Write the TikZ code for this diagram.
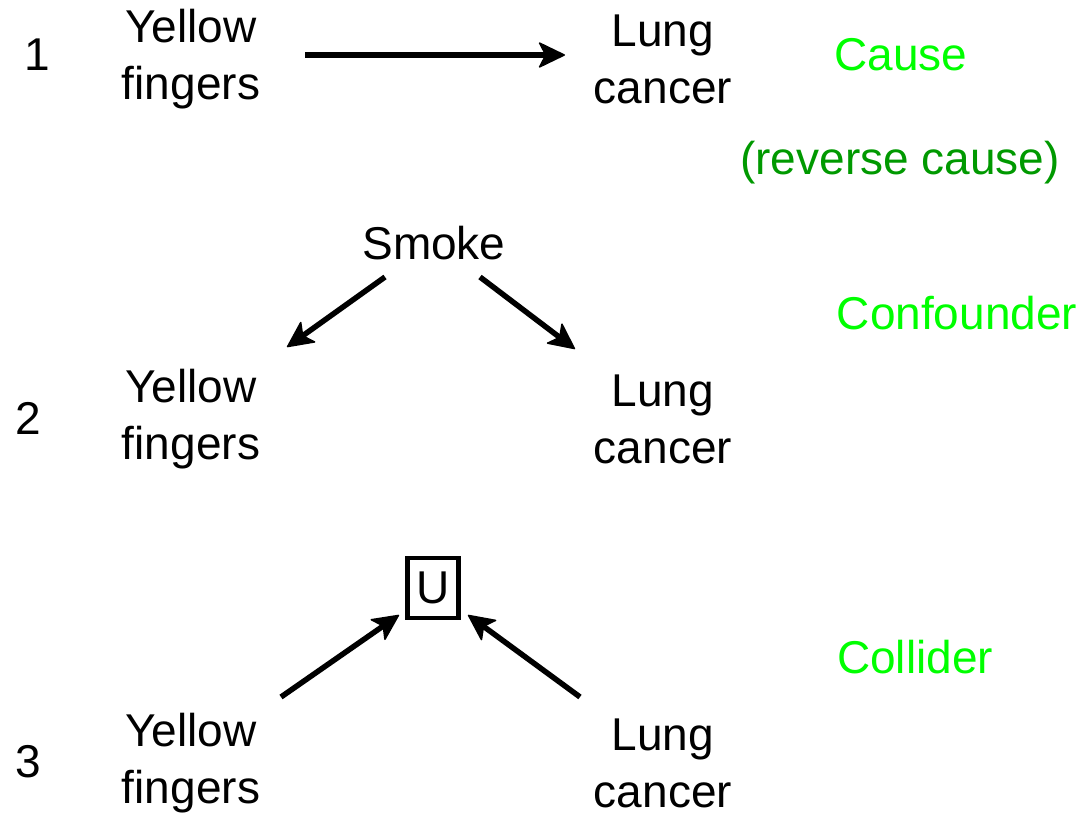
\documentclass[tikz,border=0pt]{standalone}
\usepackage{fontspec}
\setmainfont{Liberation Sans}
\usetikzlibrary{arrows.meta,calc}
\definecolor{brightgreen}{HTML}{00FF00}
\definecolor{darkgreen}{HTML}{009900}
\begin{document}
\begin{tikzpicture}[x=1pt,y=-1pt,
  every node/.style={inner sep=0pt,font=\fontsize{46}{57}\selectfont},
  lbl/.style={align=center},
  note/.style={text=brightgreen},
  arr/.style={line width=5.5pt,-{Stealth[length=28pt,width=27pt,inset=7pt,line width=1.5pt,round]}},
  ubox/.style={draw,line width=4.5pt,minimum width=51pt,minimum height=60pt}]
\useasboundingbox (0,0) rectangle (1086,816);

% row numbers
\node (n1) at (37,55) {1};
\node (n2) at (28,418) {2};
\node (n3) at (28,762) {3};

% 1: direct cause
\node[lbl] (yf1) at (191,59) {Yellow\\fingers};
\node[lbl] (lc1) at (663,59) {Lung\\cancer};
\draw[arr] ($(yf1)+(114,-4)$) -- ($(lc1)+(-98,-4)$);
\node[note] (cause) at (901,55) {Cause};
\node[text=darkgreen] (rev) at (900,163) {(reverse cause)};

% 2: confounder
\node (smoke) at (434,243) {Smoke};
\node[lbl] (yf2) at (191,419) {Yellow\\fingers};
\node[lbl] (lc2) at (663,419) {Lung\\cancer};
\draw[arr] ($(smoke)+(-49,34)$) -- ($(yf2)+(96,-72)$);
\draw[arr] ($(smoke)+(46,34)$) -- ($(lc2)+(-88,-70)$);
\node[note] (conf) at (957,313) {Confounder};

% 3: collider
\node[ubox] (u) at (433,588) {U};
\node[lbl] (yf3) at (191,763) {Yellow\\fingers};
\node[lbl] (lc3) at (663,763) {Lung\\cancer};
\draw[arr] ($(yf3)+(90,-66)$) -- ($(u)+(-34,27)$);
\draw[arr] ($(lc3)+(-83,-66)$) -- ($(u)+(35,27)$);
\node[note] (coll) at (915,657) {Collider};
\end{tikzpicture}
\end{document}
